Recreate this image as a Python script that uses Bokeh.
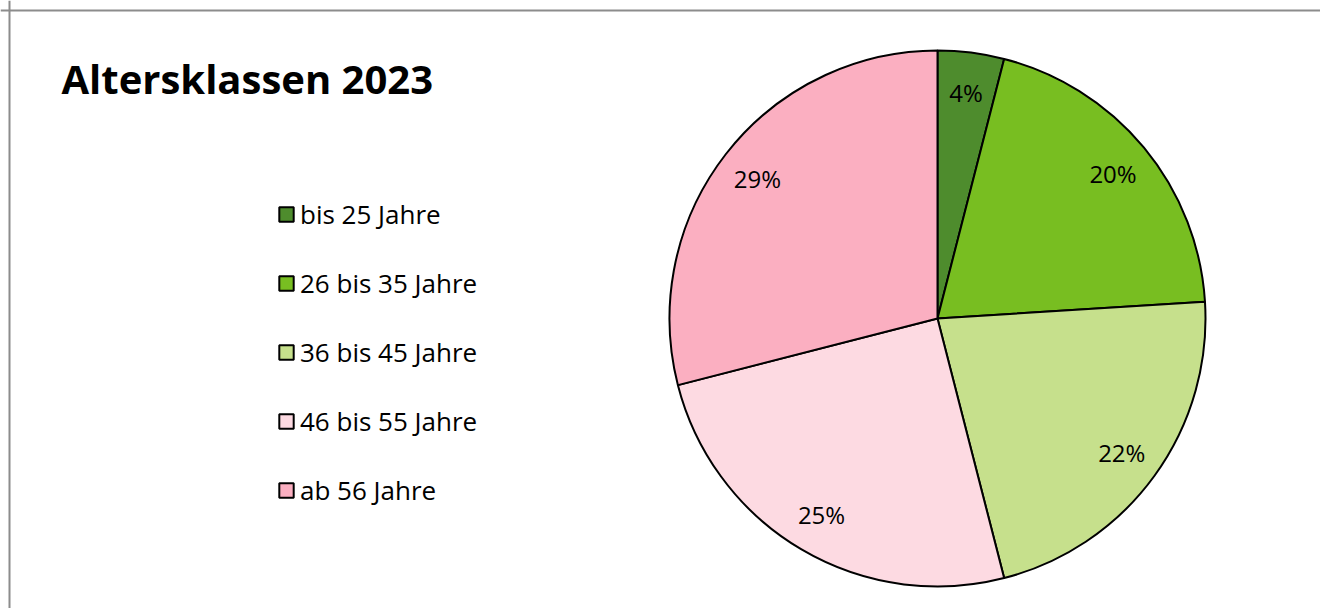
import numpy as np
from bokeh.plotting import figure
from bokeh.models import ColumnDataSource, Range1d, Legend, LegendItem, Label, Span
from bokeh.core.properties import value
from bokeh.embed import file_html
from bokeh.resources import INLINE

title_text = "Altersklassen 2023"
categories = ["bis 25 Jahre", "26 bis 35 Jahre", "36 bis 45 Jahre", "46 bis 55 Jahre", "ab 56 Jahre"]
shares = [4, 20, 22, 25, 29]
colors = ["#4E8C2D", "#78BE21", "#C6E08C", "#FDDAE2", "#FBAFC1"]

W, H = 1320, 608
cx, cy, R = 937, H - 318, 268

vals = np.array(shares, dtype=float)
frac = vals / vals.sum()
cum = np.cumsum(frac)
prev = cum - frac
start = np.pi / 2 - 2 * np.pi * prev
end = np.pi / 2 - 2 * np.pi * cum
mid = (start + end) / 2
lr = 0.85 * R

src = ColumnDataSource(dict(
    cat=categories, color=colors, start=start, end=end,
    lx=cx + lr * np.cos(mid), ly=cy + lr * np.sin(mid),
    lab=[f"{v:.0f}%" for v in vals],
))

p = figure(width=W, height=H, output_backend="svg", toolbar_location=None,
           x_range=Range1d(0, W), y_range=Range1d(0, H), min_border=0)
p.axis.visible = False
p.grid.visible = False
p.outline_line_color = None
p.background_fill_color = "white"
p.border_fill_color = "white"

items = []
for i in range(len(categories)):
    r = p.wedge(x=cx, y=cy, radius=R, start_angle=start[i], end_angle=end[i],
                direction="clock", fill_color=colors[i], line_color="black", line_width=2)
    items.append(LegendItem(label=categories[i], renderers=[r]))

p.text(x="lx", y="ly", text="lab", source=src, text_align="center", text_baseline="middle",
       text_font=value("Open Sans"), text_font_size="24px", text_color="black")

legend = Legend(items=items, location=(277, 100), orientation="vertical",
                label_text_font="Open Sans", label_text_font_size="26px",
                label_text_color="black", glyph_width=18, glyph_height=18,
                label_height=20, label_standoff=5, spacing=33, padding=0, margin=0,
                border_line_color=None, background_fill_alpha=0)
p.add_layout(legend, "center")

p.add_layout(Label(x=61, y=530, x_units="screen", y_units="screen", text=title_text,
                   text_font="Open Sans", text_font_style="bold", text_font_size="40px",
                   text_color="black", text_baseline="alphabetic"))

p.add_layout(Span(location=9, dimension="height", line_color="#8c8c8c", line_width=2))
p.add_layout(Span(location=H - 10, dimension="width", line_color="#8c8c8c", line_width=2))

open("out.html", "w").write(file_html(p, INLINE))
